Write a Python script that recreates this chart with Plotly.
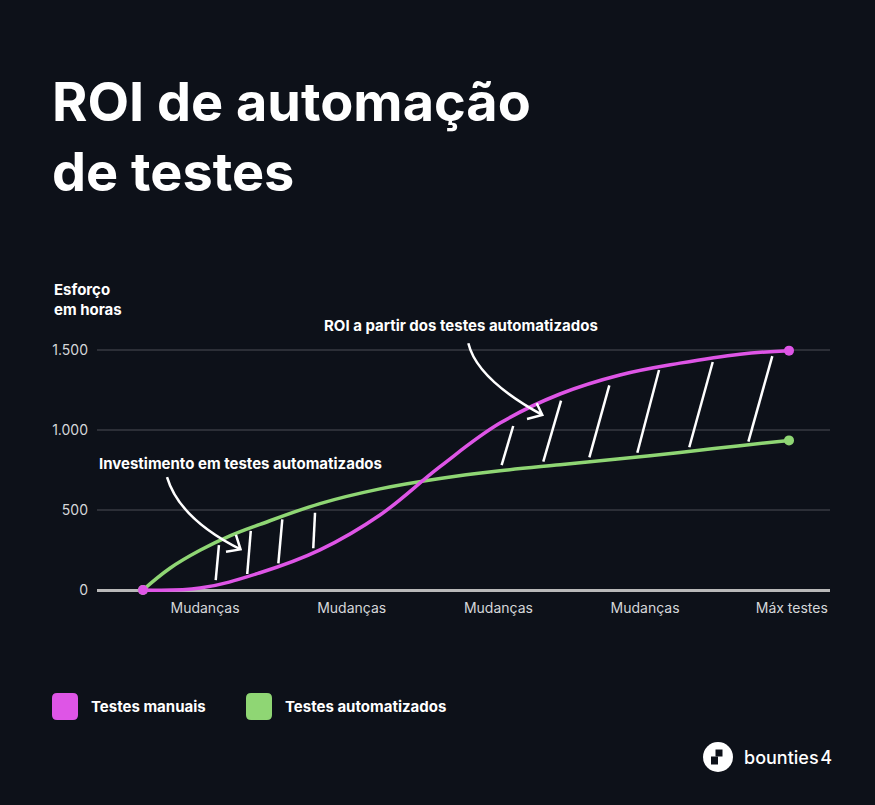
import plotly.graph_objects as go

# valores (eixo x: 1..5 = marcas do eixo)
x_ticks = [1, 2, 3, 4, 5]
x_labels = ["Mudanças", "Mudanças", "Mudanças", "Mudanças", "Máx testes"]
y_ticks = [0, 500, 1000, 1500]

x_manual = [0.577, 0.966, 1.375, 1.784, 2.193, 2.602, 3.011, 3.420, 3.829, 4.238, 4.647, 4.981]
y_manual = [0, 12, 108, 251, 469, 771, 1043, 1225, 1344, 1418, 1474, 1496]

x_auto = [0.577, 0.761, 0.966, 1.170, 1.375, 1.784, 2.193, 2.602, 3.011, 3.420, 3.829, 4.238, 4.647, 4.981]
y_auto = [0, 136, 248, 338, 410, 540, 632, 697, 745, 783, 820, 860, 902, 935]

# tracejado entre as curvas (base -> topo)
hatch_x0 = [1.073, 1.288, 1.500, 1.738, 3.022, 3.306, 3.620, 3.947, 4.301, 4.704]
hatch_y0 = [62, 100, 167, 261, 781, 802, 829, 858, 892, 927]
hatch_x1 = [1.095, 1.312, 1.527, 1.750, 3.101, 3.427, 3.756, 4.095, 4.461, 4.867]
hatch_y1 = [281, 369, 442, 483, 1025, 1183, 1279, 1375, 1425, 1462]

# setas curvas: inicio, controle, ponta, aba 1, aba 2
arrow_invest = [(0.741, 706), (0.826, 445), (1.242, 254), (1.211, 344), (1.143, 239)]
arrow_roi = [(2.795, 1542), (2.854, 1317), (3.299, 1094), (3.261, 1167), (3.195, 1069)]

series_names = ["Testes manuais", "Testes automatizados"]
colors = ["#de55e6", "#8fd674"]
bg = "#0d1119"
font = "Inter"

W, H = 875, 805
L, R, T, B = 97, 45, 326, 207


def px_x(px):
    return (px - L) / (W - L - R)


def px_y(py):
    return (H - B - py) / (H - T - B)


fig = go.Figure()

hx, hy = [], []
for a, b, c, d in zip(hatch_x0, hatch_y0, hatch_x1, hatch_y1):
    hx += [a, c, None]
    hy += [b, d, None]
fig.add_trace(go.Scatter(x=hx, y=hy, mode="lines", line=dict(color="white", width=2.5),
                         hoverinfo="skip", showlegend=False))

for xs, ys, c, name in [(x_auto, y_auto, colors[1], series_names[1]),
                        (x_manual, y_manual, colors[0], series_names[0])]:
    fig.add_trace(go.Scatter(x=xs, y=ys, mode="lines", name=name,
                             line=dict(color=c, width=3.5, shape="spline", smoothing=1.1), showlegend=False))
    fig.add_trace(go.Scatter(x=[xs[0], xs[-1]], y=[ys[0], ys[-1]], mode="markers",
                             marker=dict(color=c, size=10), cliponaxis=False,
                             hoverinfo="skip", showlegend=False))

shapes = []
for arr in [arrow_invest, arrow_roi]:
    (x0, y0), (cx, cy), (x1, y1), (w1x, w1y), (w2x, w2y) = arr
    shapes.append(dict(type="path", xref="x", yref="y",
                       path=f"M {x0},{y0} Q {cx},{cy} {x1},{y1} M {w1x},{w1y} L {x1},{y1} L {w2x},{w2y}",
                       line=dict(color="white", width=2.5)))


def rounded_rect(x0, y0, x1, y1, r):
    rx = r / (W - L - R)
    ry = r / (H - T - B)
    a, b, c, d = px_x(x0), px_y(y1), px_x(x1), px_y(y0)
    return (f"M {a+rx},{b} L {c-rx},{b} Q {c},{b} {c},{b+ry} L {c},{d-ry} Q {c},{d} {c-rx},{d} "
            f"L {a+rx},{d} Q {a},{d} {a},{d-ry} L {a},{b+ry} Q {a},{b} {a+rx},{b} Z")


annotations = []
# legenda manual
for (sx, tx), c, name in zip([(52, 89), (246, 283)], colors, series_names):
    shapes.append(dict(type="path", xref="paper", yref="paper", path=rounded_rect(sx, 693, sx + 26, 720, 5),
                       fillcolor=c, line=dict(width=0)))
    annotations.append(dict(text=name, xref="paper", yref="paper", x=px_x(tx), y=px_y(706),
                            xanchor="left", yanchor="middle", showarrow=False,
                            font=dict(family=font, size=15, color="white", weight=700)))

# logo
shapes.append(dict(type="circle", xref="paper", yref="paper", x0=px_x(703), x1=px_x(733),
                   y0=px_y(772), y1=px_y(742), fillcolor="white", line=dict(width=0)))
shapes.append(dict(type="rect", xref="paper", yref="paper", x0=px_x(715.5), x1=px_x(722.5),
                   y0=px_y(756.5), y1=px_y(749.5), fillcolor=bg, line=dict(width=0)))
shapes.append(dict(type="rect", xref="paper", yref="paper", x0=px_x(711), x1=px_x(718),
                   y0=px_y(764.5), y1=px_y(756.5), fillcolor=bg, line=dict(width=0)))
annotations.append(dict(text="bounties\u200a4", xref="paper", yref="paper", x=px_x(742), y=px_y(757),
                        xanchor="left", yanchor="middle", showarrow=False,
                        font=dict(family=font, size=18, color="white", weight=500)))

# titulo
annotations.append(dict(text="ROI de automação", xref="paper", yref="paper", x=px_x(50), y=px_y(101),
                        xanchor="left", yanchor="middle", showarrow=False,
                        font=dict(family=font, size=54, color="white", weight=700)))
annotations.append(dict(text="de testes", xref="paper", yref="paper", x=px_x(50), y=px_y(171),
                        xanchor="left", yanchor="middle", showarrow=False,
                        font=dict(family=font, size=54, color="white", weight=700)))

annotations.append(dict(text="Esforço<br>em horas", xref="paper", yref="paper", x=px_x(52), y=px_y(299),
                        xanchor="left", yanchor="middle", align="left", showarrow=False,
                        font=dict(family=font, size=15, color="white", weight=700)))

annotations.append(dict(text="ROI a partir dos testes automatizados", xref="paper", yref="paper",
                        x=px_x(322), y=px_y(325), xanchor="left", yanchor="middle", showarrow=False,
                        font=dict(family=font, size=15, color="white", weight=700)))
annotations.append(dict(text="Investimento em testes automatizados", xref="paper", yref="paper",
                        x=px_x(97), y=px_y(463), xanchor="left", yanchor="middle", showarrow=False,
                        font=dict(family=font, size=15, color="white", weight=700)))

fig.update_layout(
    width=W, height=H,
    margin=dict(l=L, r=R, t=T, b=B),
    paper_bgcolor=bg, plot_bgcolor=bg,
    separators=",.",
    font=dict(family=font, color="#d5d7da", size=14),
    shapes=shapes,
    annotations=annotations,
    showlegend=False,
    xaxis=dict(range=[0.2638, 5.2604], tickvals=x_ticks, ticktext=x_labels, showgrid=False,
               zeroline=False, showline=False, ticks="", tickfont=dict(size=14, color="#d5d7da")),
    yaxis=dict(range=[-50, 1650], tickvals=y_ticks, tickformat=",d", showgrid=True, gridcolor="#2c2f37",
               gridwidth=2, zeroline=True, zerolinecolor="#b9b9b9", zerolinewidth=3, showline=False,
               ticks="", ticklabelstandoff=8, tickfont=dict(size=14, color="#d5d7da")),
)

fig.write_html("out.html", config={"displayModeBar": False},
               post_script="document.body.style.margin='0';document.body.style.background='%s';" % bg)
